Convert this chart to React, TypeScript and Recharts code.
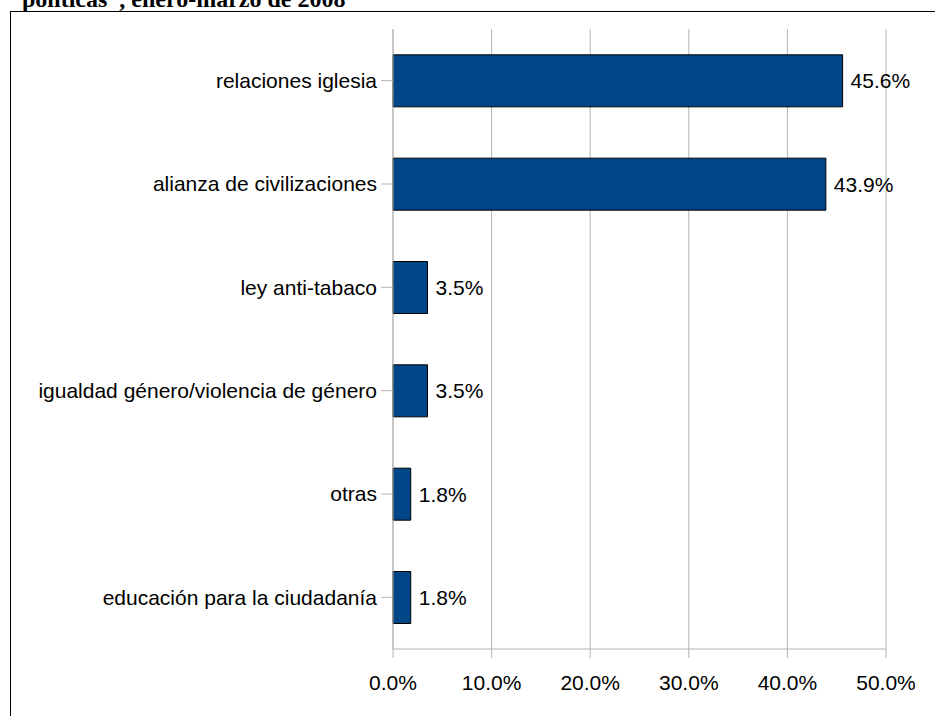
import { Bar, BarChart, CartesianGrid, LabelList, XAxis, YAxis } from "recharts";

const categories = [
  "relaciones iglesia",
  "alianza de civilizaciones",
  "ley anti-tabaco",
  "igualdad género/violencia de género",
  "otras",
  "educación para la ciudadanía",
];
const values = [45.6, 43.9, 3.5, 3.5, 1.8, 1.8];
const xTicks = [0, 10, 20, 30, 40, 50];

const data = categories.map((name, i) => ({ name, value: values[i] }));

const font = "'Liberation Sans', Arial, sans-serif";
const grey = "#b3b3b3";

export default function App() {
  return (
    <div
      style={{
        position: "absolute",
        left: 0,
        top: 0,
        width: 935,
        height: 716,
        overflow: "hidden",
        background: "#fff",
      }}
    >
      <div
        style={{
          position: "absolute",
          left: 22,
          top: -13,
          fontFamily: "'Liberation Serif', 'Times New Roman', serif",
          fontWeight: "bold",
          fontSize: 24,
          lineHeight: "24px",
          whiteSpace: "nowrap",
        }}
      >
        políticas”, enero-marzo de 2008
      </div>
      <div
        style={{
          position: "absolute",
          left: 10,
          top: 11,
          width: 1000,
          height: 800,
          border: "1px solid #000",
        }}
      />
      <div style={{ position: "absolute", left: 0, top: 0 }}>
        <BarChart
          width={935}
          height={716}
          data={data}
          layout="vertical"
          margin={{ top: 29, right: 49, bottom: 0, left: 0 }}
          barCategoryGap="25%"
        >
          <CartesianGrid horizontal={false} stroke={grey} />
          <XAxis
            xAxisId="top"
            orientation="top"
            type="number"
            domain={[0, 50]}
            ticks={xTicks}
            height={0}
            tick={false}
            tickLine={false}
            axisLine={{ stroke: grey }}
          />
          <XAxis
            type="number"
            domain={[0, 50]}
            ticks={xTicks}
            height={67}
            tickSize={9}
            tickMargin={17}
            tickLine={{ stroke: grey }}
            axisLine={{ stroke: grey }}
            tickFormatter={(v: number) => `${v.toFixed(1)}%`}
            tick={{ fill: "#000", fontSize: 21, fontFamily: font }}
          />
          <YAxis
            type="category"
            dataKey="name"
            width={393}
            tickSize={12}
            tickMargin={4}
            tickLine={{ stroke: grey }}
            axisLine={{ stroke: grey }}
            tick={{ fill: "#000", fontSize: 21, fontFamily: font }}
          />
          <Bar
            dataKey="value"
            fill="#004586"
            stroke="#000"
            strokeWidth={1}
            isAnimationActive={false}
          >
            <LabelList
              dataKey="value"
              position="right"
              offset={8}
              formatter={(v: any) => `${Number(v).toFixed(1)}%`}
              style={{ fill: "#000", fontSize: 21, fontFamily: font }}
            />
          </Bar>
        </BarChart>
      </div>
    </div>
  );
}
